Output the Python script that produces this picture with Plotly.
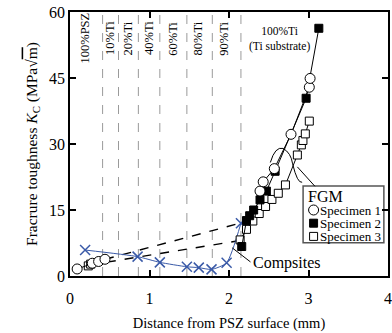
import plotly.graph_objects as go

# ---- data ----
spec1_left_x = [0.09, 0.28, 0.36, 0.44]
spec1_left_y = [1.6, 2.9, 3.3, 3.8]
spec3_left_x = [0.23, 0.26]
spec3_left_y = [2.3, 2.7]

spec1_x = [2.39, 2.43, 2.57, 2.78, 3.01, 3.02]
spec1_y = [19.3, 21.4, 24.4, 32.2, 42.9, 44.9]
spec2_x = [2.16, 2.22, 2.26, 2.31, 2.39, 2.47, 2.58, 2.97, 3.13]
spec2_y = [6.7, 12.6, 13.7, 15.0, 17.3, 19.3, 23.8, 40.4, 56.3]
spec3_x = [2.14, 2.22, 2.30, 2.38, 2.46, 2.54, 2.62, 2.71, 2.86, 2.91, 2.93, 2.96, 3.01]
spec3_y = [8.2, 10.6, 12.5, 14.2, 15.8, 17.4, 18.8, 20.7, 27.5, 29.8, 30.8, 32.3, 35.2]

bridge_upper_x = [0.44, 2.16]
bridge_upper_y = [3.8, 12.1]
bridge_lower_x = [0.24, 2.12]
bridge_lower_y = [2.5, 8.0]

comp_x = [0.19, 0.85, 1.13, 1.47, 1.62, 1.78, 1.97, 2.15]
comp_y = [5.9, 4.4, 3.1, 2.1, 1.9, 1.5, 3.0, 12.0]

layer_bounds = [0.41, 0.61, 0.86, 1.13, 1.47, 1.79, 2.15]
layer_label_x = [0.19, 0.51, 0.73, 1.0, 1.30, 1.61, 1.94]
layer_labels = ["100%PSZ", "10%Ti", "20%Ti", "40%Ti", "60%Ti", "80%Ti", "90%Ti"]

legend_names = ["Specimen 1", "Specimen 2", "Specimen 3"]

SERIF = "Liberation Serif"
BLUE = "#3a5aa8"

fig = go.Figure()

def add(x, y, mode, symbol=None, color="black", dash="solid", size=9, lw=1.0, fill="white", shape="linear"):
    kw = dict(x=x, y=y, mode=mode, showlegend=False, hoverinfo="skip",
              line=dict(color=color, width=lw, dash=dash, shape=shape))
    if symbol:
        kw["marker"] = dict(symbol=symbol, size=size, color=fill,
                            line=dict(color=color, width=1))
    fig.add_trace(go.Scatter(**kw))

# bridges (dashed)
add(bridge_upper_x, bridge_upper_y, "lines", dash="dash", lw=1.4)
add(bridge_lower_x, bridge_lower_y, "lines", dash="dash", lw=1.4)
# composites
fig.add_trace(go.Scatter(x=comp_x, y=comp_y, mode="lines+markers", showlegend=False,
                         hoverinfo="skip",
                         line=dict(color=BLUE, width=1, shape="spline", smoothing=0.6),
                         marker=dict(symbol="x-thin", size=10, line=dict(color=BLUE, width=1.5))))
# FGM specimens
add(spec3_x, spec3_y, "lines+markers", "square", size=8, fill="white")
add(spec2_x, spec2_y, "lines+markers", "square", size=8, fill="black")
add(spec1_x, spec1_y, "lines+markers", "circle", size=10, fill="white")
add(spec3_left_x, spec3_left_y, "lines+markers", "square", size=8, fill="white")
add(spec1_left_x, spec1_left_y, "lines+markers", "circle", size=10, fill="white")

shapes = []
for b in layer_bounds:
    shapes.append(dict(type="line", xref="x", yref="y", x0=b, x1=b, y0=0, y1=60,
                       line=dict(color="#9a9a9a", width=1, dash="dash"), layer="below"))

annotations = []
for lx, lt in zip(layer_label_x, layer_labels):
    annotations.append(dict(x=lx, y=54.0, xref="x", yref="y", text=lt, textangle=-90,
                            showarrow=False, font=dict(family=SERIF, size=12.5, color="black")))
annotations.append(dict(x=2.64, y=53.8, xref="x", yref="y", text="100%Ti<br>(Ti substrate)",
                        showarrow=False, font=dict(family=SERIF, size=11.5, color="black")))
annotations.append(dict(x=2.73, y=2.9, xref="x", yref="y", text="Compsites",
                        showarrow=False, font=dict(family=SERIF, size=16, color="black")))

# Compsites leader
shapes.append(dict(type="line", xref="x", yref="y", x0=2.04, y0=6.4, x1=2.27, y1=3.2,
                   line=dict(color="black", width=1)))

# FGM legend box (paper coords on overlay axes)
shapes.append(dict(type="rect", xref="x2", yref="y2", x0=0.733, x1=0.987, y0=0.126, y1=0.341,
                   line=dict(color="#555", width=1.5), fillcolor="white", layer="below"))
# FGM leader lines and grouping arcs
shapes.append(dict(type="line", xref="x", yref="y", x0=3.08, y0=20.4, x1=2.86, y1=24.8,
                   line=dict(color="black", width=1)))
shapes.append(dict(type="path", xref="x", yref="y",
                   path="M 2.52,25.8 Q 2.58,29.5 2.68,29.0 Q 2.78,28.0 2.80,25.5",
                   line=dict(color="black", width=1)))
shapes.append(dict(type="path", xref="x", yref="y",
                   path="M 2.80,25.5 Q 2.86,21.0 2.92,21.3",
                   line=dict(color="black", width=1)))

annotations.append(dict(x=0.742, y=0.302, xref="x2", yref="y2", text="FGM", xanchor="left",
                        yanchor="middle", showarrow=False,
                        font=dict(family=SERIF, size=16, color="black")))
for i, nm in enumerate(legend_names):
    annotations.append(dict(x=0.78, y=0.250 - i * 0.05, xref="x2", yref="y2", text=nm,
                            xanchor="left", yanchor="middle", showarrow=False,
                            font=dict(family=SERIF, size=13, color="black")))

leg_sym = ["circle", "square", "square"]
leg_fill = ["white", "black", "white"]
leg_size = [10, 8, 8]
for i in range(3):
    fig.add_trace(go.Scatter(x=[0.766], y=[0.250 - i * 0.05], xaxis="x2", yaxis="y2",
                             mode="markers", showlegend=False, hoverinfo="skip",
                             marker=dict(symbol=leg_sym[i], size=leg_size[i], color=leg_fill[i],
                                         line=dict(color="black", width=1))))

axis_common = dict(showline=True, linecolor="black", linewidth=1.5, mirror="allticks",
                   ticks="inside", ticklen=6, tickwidth=1.5, tickcolor="black",
                   showgrid=False, zeroline=False,
                   tickfont=dict(family=SERIF, size=16, color="black"))

fig.update_layout(
    width=392, height=333,
    margin=dict(l=70, r=4, t=12, b=57, autoexpand=False),
    plot_bgcolor="white", paper_bgcolor="white",
    shapes=shapes, annotations=annotations,
    xaxis=dict(range=[0, 4], tickvals=[0, 1, 2, 3, 4], ticklabelstandoff=7, **axis_common,
               title=dict(text="Distance from PSZ surface (mm)", standoff=12,
                          font=dict(family=SERIF, size=14.5, color="black"))),
    yaxis=dict(range=[0, 60], tickvals=[0, 15, 30, 45, 60], **axis_common,
               title=dict(text="Fracrure toughness <i>K</i><sub>C</sub> (MPa√<span style='text-decoration:overline'>m</span>)",
                          standoff=8, font=dict(family=SERIF, size=15.5, color="black"))),
    xaxis2=dict(range=[0, 1], overlaying="x", visible=False, fixedrange=True),
    yaxis2=dict(range=[0, 1], overlaying="y", visible=False, fixedrange=True),
)

fig.write_html("out.html", config={"displayModeBar": False},
               post_script="document.body.style.margin='0px';")
